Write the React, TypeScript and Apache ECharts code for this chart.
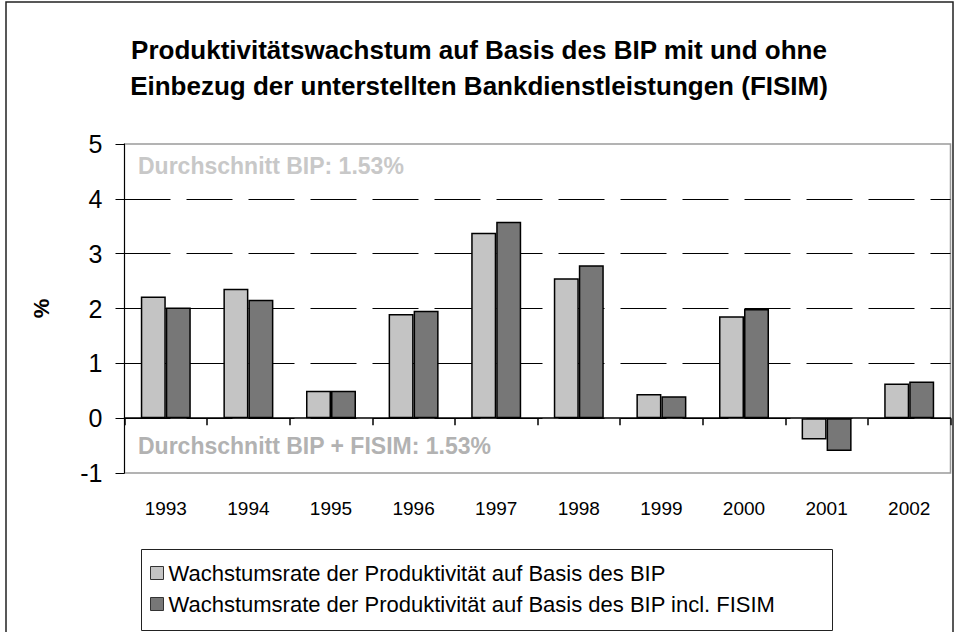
import React, { useEffect, useRef } from "react";
import * as echarts from "echarts";

const years = ["1993", "1994", "1995", "1996", "1997", "1998", "1999", "2000", "2001", "2002"];
const bipValues = [2.22, 2.36, 0.5, 1.9, 3.38, 2.55, 0.44, 1.86, -0.39, 0.63];
const fisimValues = [2.02, 2.16, 0.5, 1.96, 3.58, 2.79, 0.4, 1.99, -0.6, 0.67];
const seriesNames = [
  "Wachstumsrate der Produktivität auf Basis des BIP",
  "Wachstumsrate der Produktivität auf Basis des BIP incl. FISIM",
];
const titleText = "Produktivitätswachstum auf Basis des BIP mit und ohne\nEinbezug der unterstellten Bankdienstleistungen (FISIM)";
const noteTop = "Durchschnitt BIP: 1.53%";
const noteBottom = "Durchschnitt BIP + FISIM: 1.53%";

const FONT = "'Liberation Sans', Arial, Helvetica, sans-serif";

export default function App() {
  const ref = useRef<HTMLDivElement>(null);
  useEffect(() => {
    if (!ref.current) return;
    const chart = echarts.init(ref.current, undefined, { renderer: "svg" });
    chart.setOption({
      animation: false,
      backgroundColor: "#ffffff",
      textStyle: { fontFamily: FONT },
      title: {
        text: titleText,
        left: "center",
        top: 27,
        textStyle: { fontFamily: FONT, fontSize: 26, fontWeight: "bold", color: "#000", lineHeight: 36 },
      },
      grid: {
        left: 124.5,
        right: 7.5,
        top: 144,
        bottom: 159,
        show: true,
        borderColor: "#9a9a9a",
        borderWidth: 1.5,
        backgroundColor: "transparent",
        containLabel: false,
      },
      legend: {
        orient: "vertical",
        left: 141,
        top: 549,
        padding: [13, 6, 10, 9],
        itemGap: 9,
        itemWidth: 13,
        itemHeight: 13,
        borderWidth: 0,
        icon: "rect",
        textStyle: { fontFamily: FONT, fontSize: 22, color: "#000" },
        data: seriesNames,
        itemStyle: { borderColor: "#333", borderWidth: 1 },
      },
      xAxis: [
        {
          type: "category",
          data: years,
          position: "bottom",
          axisLine: { show: false, onZero: false },
          axisTick: { show: false },
          axisLabel: { margin: 26, fontSize: 19, color: "#000", fontFamily: FONT },
          splitLine: { show: false },
        },
        {
          type: "category",
          data: years,
          position: "bottom",
          axisLine: { show: true, onZero: true, lineStyle: { color: "#000", width: 1.5 } },
          axisTick: { show: true, length: 7, lineStyle: { color: "#000", width: 1.5 } },
          axisLabel: { show: false },
          splitLine: { show: false },
        },
      ],
      yAxis: {
        type: "value",
        min: -1,
        max: 5,
        interval: 1,
        name: "%",
        nameLocation: "middle",
        nameRotate: 90,
        nameGap: 72,
        nameTextStyle: { fontFamily: FONT, fontSize: 22, fontWeight: "bold", color: "#000" },
        axisLine: { show: true, onZero: false, lineStyle: { color: "#000", width: 1 } },
        axisTick: { show: true, length: 9, lineStyle: { color: "#000", width: 1 } },
        axisLabel: { margin: 22, fontSize: 25, color: "#000", fontFamily: FONT },
        splitLine: {
          show: true,
          showMinLine: false,
          showMaxLine: false,
          lineStyle: { color: "#000", width: 1, type: [46, 16] },
        },
      },
      series: [
        {
          name: seriesNames[0],
          type: "bar",
          xAxisIndex: 0,
          data: bipValues,
          barWidth: 25,
          barGap: "0%",
          itemStyle: { color: "#c4c4c4", borderColor: "#000", borderWidth: 1.5 },
        },
        {
          name: seriesNames[1],
          type: "bar",
          xAxisIndex: 0,
          data: fisimValues,
          barWidth: 25,
          barGap: "0%",
          itemStyle: { color: "#777777", borderColor: "#000", borderWidth: 1.5 },
        },
      ],
      graphic: [
        {
          type: "rect",
          shape: { x: 6, y: 2, width: 947, height: 660 },
          style: { fill: "none", stroke: "#222", lineWidth: 1.5 },
          silent: true,
          z: -1,
        },
        {
          type: "rect",
          shape: { x: 141.5, y: 549.5, width: 691, height: 81 },
          style: { fill: "none", stroke: "#222", lineWidth: 1 },
          silent: true,
          z: -1,
        },
        {
          type: "text",
          x: 138,
          y: 166,
          style: {
            text: noteTop,
            fill: "#c8c8c8",
            font: `bold 23px ${FONT}`,
            textVerticalAlign: "middle",
          },
        },
        {
          type: "text",
          x: 138,
          y: 446,
          style: {
            text: noteBottom,
            fill: "#b2b2b2",
            font: `bold 23px ${FONT}`,
            textVerticalAlign: "middle",
          },
        },
      ],
    });
    return () => chart.dispose();
  }, []);
  return (
    <div
      ref={ref}
      style={{ position: "absolute", left: 0, top: 0, width: 958, height: 632 }}
    />
  );
}
